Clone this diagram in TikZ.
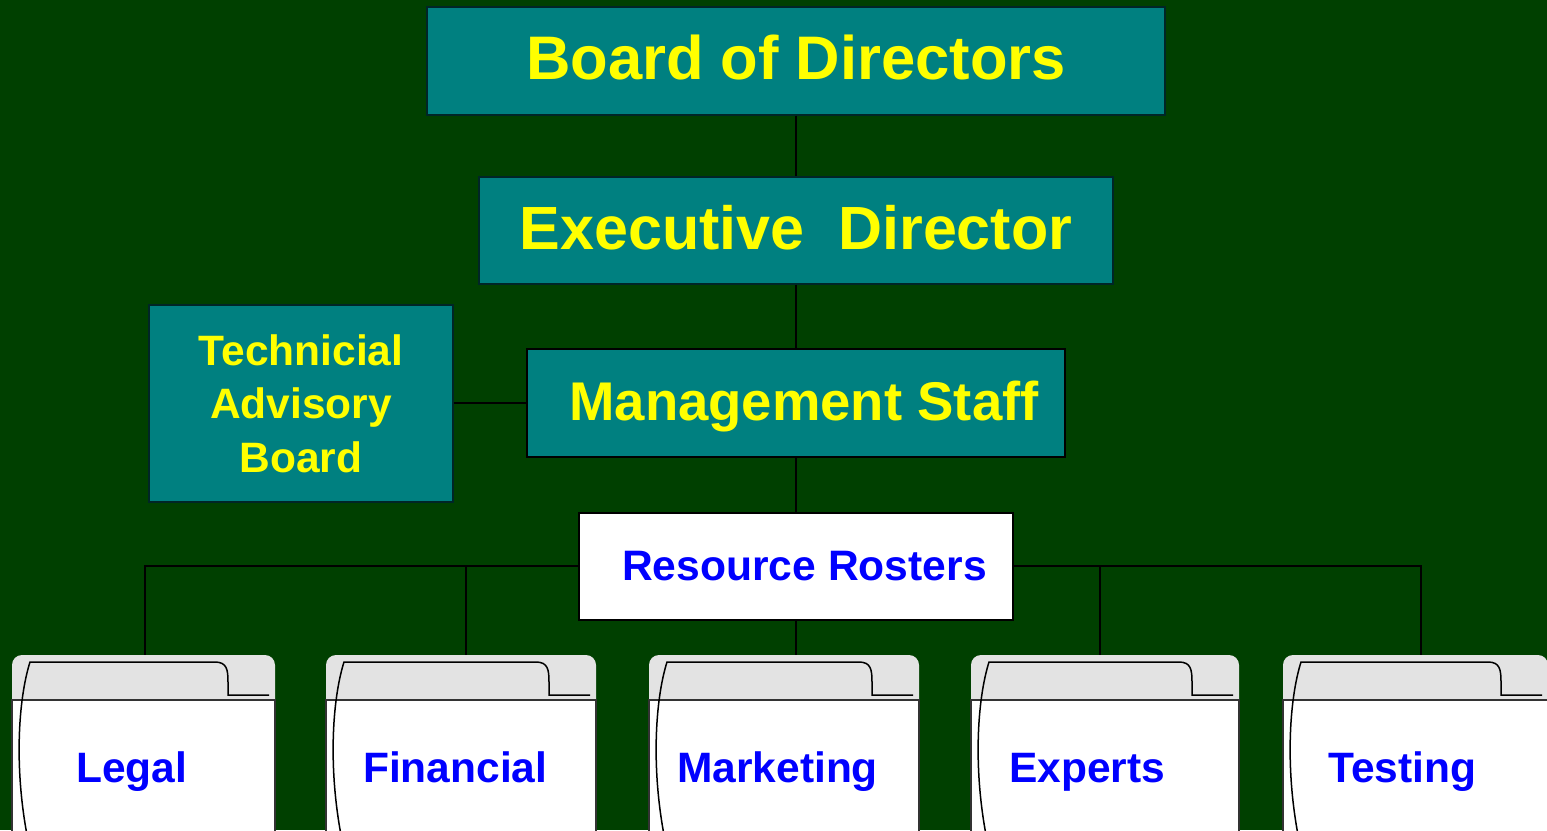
\documentclass[tikz,border=0pt]{standalone}
\usepackage{fontspec}
\setmainfont{Liberation Sans}

\definecolor{bggreen}{RGB}{0,64,0}
\definecolor{boxteal}{RGB}{0,128,128}
\definecolor{tabgray}{RGB}{227,227,227}
\definecolor{labelblue}{RGB}{0,0,255}
\definecolor{labelyellow}{RGB}{255,255,0}

\tikzset{
  tealbox/.style={fill=boxteal, draw=black!70!boxteal, line width=1.2pt, text=labelyellow, inner sep=0pt},
  link/.style={draw=black, line width=2pt},
  foldertext/.style={anchor=base west, inner sep=0pt, text=labelblue, font=\bfseries\fontsize{42.5}{50}\selectfont},
}

\begin{document}
\begin{tikzpicture}[x=1pt,y=-1pt]
\useasboundingbox (0,0) rectangle (1547,830);
\clip (0,0) rectangle (1547,830);
\fill[bggreen] (0,0) rectangle (1547,830);

\node[tealbox, minimum width=738pt, minimum height=108pt, text height=37pt, text depth=0pt, font=\bfseries\fontsize{61.5}{70}\selectfont] (board) at (796,61) {Board of Directors};
\node[tealbox, minimum width=634pt, minimum height=107pt, text height=37pt, text depth=0pt, font=\bfseries\fontsize{61}{70}\selectfont] (exec) at (796,230.5) {Executive\ \ Director};
\node[tealbox, draw=black, line width=2.5pt, minimum width=538pt, minimum height=108pt, text height=34pt, text depth=0pt, font=\bfseries\fontsize{54.5}{64}\selectfont] (mgmt) at (796,403) {\hspace{16pt}Management Staff};
\node[tealbox, minimum width=304pt, minimum height=197pt, align=center, font=\bfseries\fontsize{42.5}{53.5}\selectfont] (tab) at (301,403.5) {Technicial\\Advisory\\Board};
\node[fill=white, draw=black, line width=2pt, minimum width=434pt, minimum height=107pt, inner sep=0pt, text height=28pt, text depth=0pt, text=labelblue, font=\bfseries\fontsize{42.6}{50}\selectfont] (rr) at (796,566) {\hspace{17pt}Resource Rosters};

% folders
\foreach \l/\r/\d/\tx/\n/\t in {12/275/145/76/legal/Legal, 326/596/466/363/financial/Financial, 649/919/796/677/marketing/Marketing, 971/1239/1100/1009/experts/Experts, 1283/1548/1421/1328/testing/Testing}{
  \fill[tabgray, rounded corners=10pt] (\l,655) rectangle (\r,720);
  \fill[white] (\l,700) rectangle (\r,840);
  \draw[black!80, line width=1.2pt] (\l,840) -- (\l,700) -- (\r,700) -- (\r,840);
  \draw[line width=1.5pt] ({\l+16},840) .. controls ({\l+2},770) and ({\l+6},700) .. ({\l+18},662) -- ({\r-60},662) .. controls ({\r-48},662) and ({\r-47},670) .. ({\r-47},682) -- ({\r-47},695) -- ({\r-6},695);
  \coordinate (\n-top) at (\d,655);
  \node[foldertext] (\n) at (\tx,782) {\t};
}

\draw[link] (board) -- (exec);
\draw[link] (exec) -- (mgmt);
\draw[link] (tab.east |- mgmt.west) -- (mgmt.west);
\draw[link] (mgmt) -- (rr);
\draw[link] (rr.west) -| (legal-top);
\draw[link] (rr.west) -| (financial-top);
\draw[link] (rr) -- (marketing-top);
\draw[link] (rr.east) -| (experts-top);
\draw[link] (rr.east) -| (testing-top);
\end{tikzpicture}
\end{document}
